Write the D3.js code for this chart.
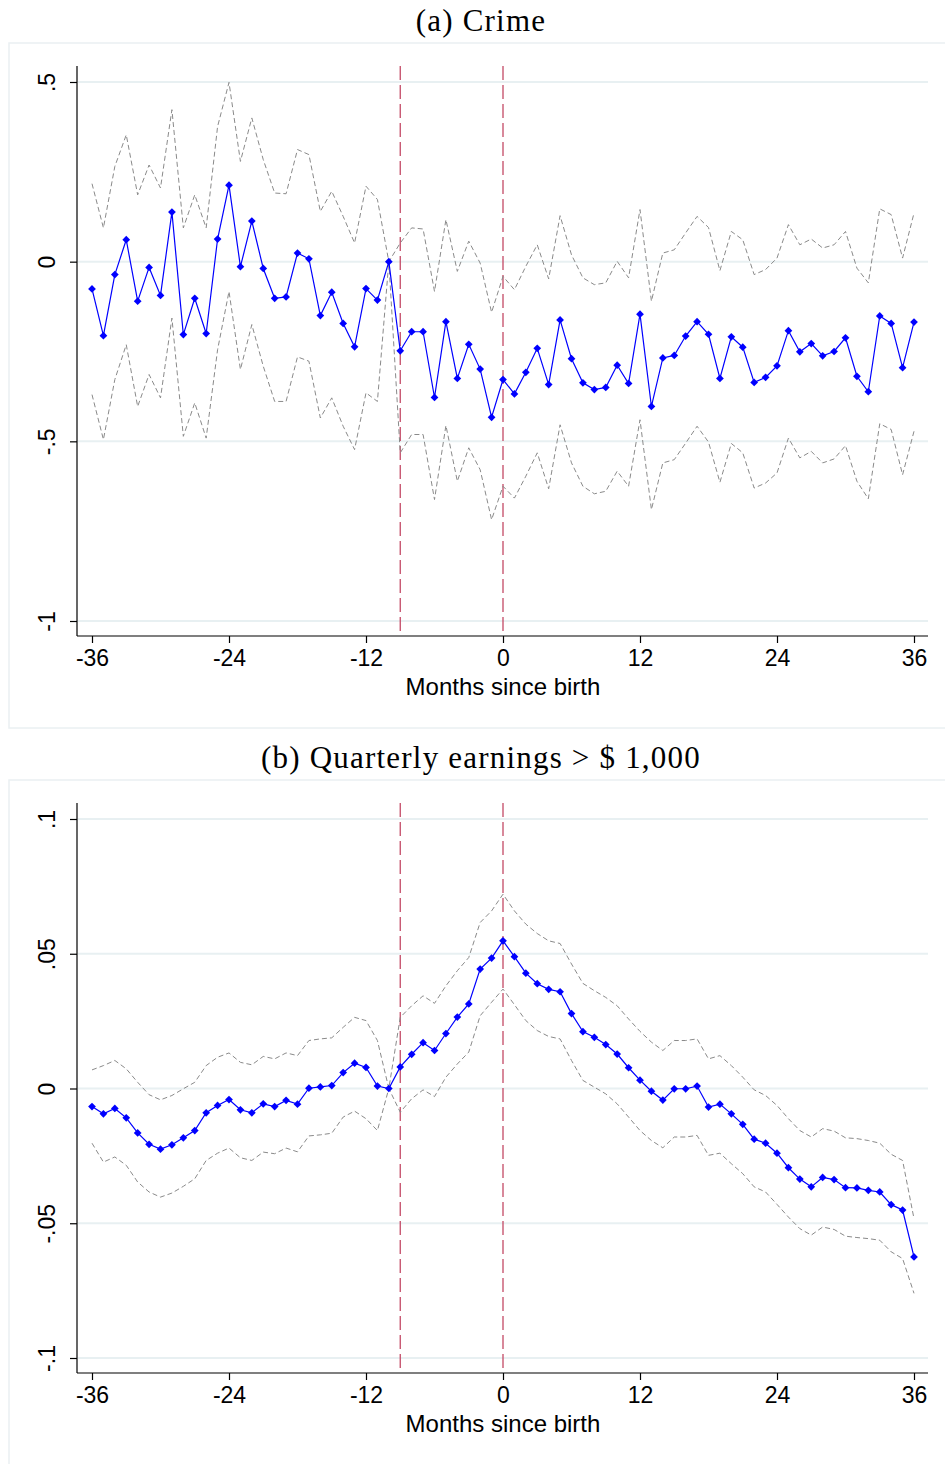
<html>
<head>
<meta charset="utf-8">
<style>
  body { margin: 0; background: #fff; }
  .frame { fill: none; stroke: #eaf0f2; stroke-width: 1.5; }
  .title { font-family: "Liberation Serif", "DejaVu Serif", serif; font-size: 31px; letter-spacing: 1.2px; text-anchor: middle; }
  .axis text { font-family: "Liberation Sans", Arial, sans-serif; font-size: 23px; fill: #000; }
  .axis path, .axis line { stroke: #000; stroke-width: 1.2; }
  .xlabel { font-family: "Liberation Sans", Arial, sans-serif; font-size: 24px; text-anchor: middle; }
  .grid { stroke: #e8f0f2; stroke-width: 2; }
  .vline { stroke: #c44a66; stroke-width: 1.3; stroke-dasharray: 14,5; }
  .ci { fill: none; stroke: #8a8a8a; stroke-width: 1; stroke-dasharray: 5,3; }
  .est { fill: none; stroke: #0000ff; stroke-width: 1.2; }
  .dot { fill: #0000ff; }
</style>
</head>
<body>
<svg id="chart"></svg>
<script src="https://d3js.org/d3.v7.min.js"></script>
<script>
var months = d3.range(-36, 37);
var xTicks = [-36, -24, -12, 0, 12, 24, 36];
var xTickLabels = ["-36", "-24", "-12", "0", "12", "24", "36"];
var eventLines = [-9, 0];

// (a) Crime
var crimeTicks = [0.5, 0, -0.5, -1];
var crimeTickLabels = [".5", "0", "-.5", "-1"];
var crimeEst = [-0.076, -0.206, -0.036, 0.061, -0.110, -0.016, -0.094, 0.138, -0.203, -0.102, -0.200, 0.063,
  0.213, -0.014, 0.113, -0.019, -0.102, -0.098, 0.024, 0.008, -0.150, -0.085, -0.172, -0.237,
  -0.075, -0.107, 0.000, -0.248, -0.195, -0.195, -0.378, -0.167, -0.325, -0.230, -0.299, -0.433,
  -0.328, -0.368, -0.308, -0.241, -0.342, -0.162, -0.270, -0.337, -0.356, -0.350, -0.288, -0.339,
  -0.146, -0.403, -0.268, -0.261, -0.207, -0.167, -0.202, -0.325, -0.209, -0.238, -0.336, -0.322,
  -0.290, -0.192, -0.251, -0.228, -0.262, -0.250, -0.212, -0.319, -0.362, -0.151, -0.172, -0.295, -0.168];
var crimeHi = [0.217, 0.094, 0.265, 0.353, 0.186, 0.269, 0.205, 0.423, 0.094, 0.186, 0.094, 0.376,
  0.499, 0.279, 0.400, 0.284, 0.191, 0.189, 0.312, 0.298, 0.140, 0.196, 0.126, 0.052,
  0.210, 0.173, 0.000, 0.052, 0.094, 0.091, -0.083, 0.117, -0.027, 0.057, -0.004, -0.141,
  -0.041, -0.078, -0.013, 0.047, -0.048, 0.128, 0.019, -0.045, -0.064, -0.059, 0.001, -0.045,
  0.145, -0.110, 0.024, 0.033, 0.080, 0.126, 0.095, -0.025, 0.084, 0.061, -0.036, -0.022,
  0.010, 0.103, 0.047, 0.063, 0.038, 0.047, 0.084, -0.018, -0.059, 0.147, 0.131, 0.010, 0.135];
var crimeLo = [-0.370, -0.495, -0.328, -0.231, -0.403, -0.314, -0.379, -0.157, -0.486, -0.393, -0.491, -0.245,
  -0.083, -0.300, -0.175, -0.291, -0.389, -0.389, -0.265, -0.277, -0.435, -0.379, -0.458, -0.523,
  -0.365, -0.389, 0.000, -0.532, -0.481, -0.481, -0.662, -0.456, -0.611, -0.518, -0.579, -0.718,
  -0.625, -0.658, -0.597, -0.532, -0.632, -0.454, -0.560, -0.625, -0.646, -0.639, -0.583, -0.625,
  -0.440, -0.690, -0.560, -0.551, -0.505, -0.458, -0.502, -0.614, -0.506, -0.532, -0.630, -0.616,
  -0.588, -0.491, -0.546, -0.528, -0.560, -0.549, -0.512, -0.611, -0.660, -0.451, -0.467, -0.593, -0.472];

// (b) Quarterly earnings > $1,000
var earnTicks = [0.1, 0.05, 0, -0.05, -0.1];
var earnTickLabels = [".1", ".05", "0", "-.05", "-.1"];
var earnEst = [-0.0067, -0.0094, -0.0074, -0.0109, -0.0165, -0.0207, -0.0225, -0.0209, -0.0183, -0.0156, -0.0090, -0.0063,
  -0.0041, -0.0079, -0.0090, -0.0057, -0.0067, -0.0044, -0.0058, 0.0001, 0.0006, 0.0011, 0.0059, 0.0094,
  0.0078, 0.0009, 0.0000, 0.0080, 0.0127, 0.0170, 0.0141, 0.0204, 0.0265, 0.0314, 0.0443, 0.0484,
  0.0548, 0.0489, 0.0428, 0.0389, 0.0368, 0.0359, 0.0278, 0.0211, 0.0190, 0.0163, 0.0128, 0.0077,
  0.0031, -0.0010, -0.0043, -0.0001, -0.0001, 0.0009, -0.0069, -0.0058, -0.0094, -0.0133, -0.0188, -0.0203,
  -0.0240, -0.0294, -0.0336, -0.0365, -0.0330, -0.0338, -0.0368, -0.0369, -0.0378, -0.0384, -0.0431, -0.0451, -0.0625];
var earnHi = [0.0069, 0.0085, 0.0104, 0.0073, 0.0023, -0.0023, -0.0042, -0.0026, -0.0001, 0.0023, 0.0085, 0.0116,
  0.0132, 0.0097, 0.0088, 0.0119, 0.0110, 0.0132, 0.0122, 0.0178, 0.0184, 0.0188, 0.0227, 0.0264,
  0.0252, 0.0178, 0.0000, 0.0264, 0.0307, 0.0344, 0.0316, 0.0381, 0.0437, 0.0486, 0.0616, 0.0659,
  0.0721, 0.0659, 0.0610, 0.0575, 0.0548, 0.0538, 0.0462, 0.0390, 0.0363, 0.0338, 0.0307, 0.0258,
  0.0212, 0.0172, 0.0141, 0.0178, 0.0178, 0.0184, 0.0110, 0.0122, 0.0085, 0.0042, -0.0005, -0.0026,
  -0.0063, -0.0112, -0.0156, -0.0180, -0.0149, -0.0158, -0.0183, -0.0186, -0.0193, -0.0203, -0.0244, -0.0267, -0.0483];
var earnLo = [-0.0203, -0.0273, -0.0254, -0.0285, -0.0347, -0.0384, -0.0403, -0.0388, -0.0363, -0.0335, -0.0267, -0.0240,
  -0.0221, -0.0257, -0.0267, -0.0236, -0.0242, -0.0221, -0.0235, -0.0176, -0.0172, -0.0166, -0.0106, -0.0084,
  -0.0112, -0.0156, 0.0000, -0.0088, -0.0038, -0.0005, -0.0030, 0.0042, 0.0091, 0.0135, 0.0270, 0.0320,
  0.0369, 0.0311, 0.0252, 0.0215, 0.0193, 0.0184, 0.0104, 0.0030, 0.0005, -0.0020, -0.0057, -0.0106,
  -0.0156, -0.0193, -0.0220, -0.0180, -0.0180, -0.0174, -0.0248, -0.0240, -0.0279, -0.0316, -0.0365, -0.0384,
  -0.0430, -0.0477, -0.0520, -0.0544, -0.0514, -0.0523, -0.0548, -0.0553, -0.0557, -0.0563, -0.0606, -0.0631, -0.0760];

var svg = d3.select("#chart")
  .attr("width", 945)
  .attr("height", 1464);

svg.append("rect").attr("width", 945).attr("height", 1464).attr("fill", "#fff");

var x = d3.scaleLinear().domain([-36, 36]).range([92, 914]);

function drawPanel(top, title, est, lo, hi, ticks, tickLabels) {
  var g = svg.append("g").attr("transform", "translate(0," + top + ")");

  g.append("rect").attr("class", "frame")
    .attr("x", 9).attr("y", 43).attr("width", 940).attr("height", 685);
  g.append("text").attr("class", "title")
    .attr("x", 481).attr("y", 31).text(title);

  var y = d3.scaleLinear()
    .domain([ticks[ticks.length - 1], ticks[0]])
    .range([621, 82]);

  g.selectAll(".grid").data(ticks).enter().append("line")
    .attr("class", "grid")
    .attr("x1", 78).attr("x2", 928)
    .attr("y1", function(d) { return y(d); })
    .attr("y2", function(d) { return y(d); });

  g.selectAll(".vline").data(eventLines).enter().append("line")
    .attr("class", "vline")
    .attr("x1", function(d) { return x(d); })
    .attr("x2", function(d) { return x(d); })
    .attr("y1", 66).attr("y2", 636);

  var line = function(vals) {
    return d3.line()
      .x(function(d, i) { return x(months[i]); })
      .y(function(d) { return y(d); })(vals);
  };

  g.append("path").attr("class", "ci").attr("d", line(hi));
  g.append("path").attr("class", "ci").attr("d", line(lo));
  g.append("path").attr("class", "est").attr("d", line(est));

  // diamonds: a square turned 45 degrees
  var diamond = d3.symbol().type(d3.symbolSquare).size(30);
  g.selectAll(".dot").data(est).enter().append("path")
    .attr("class", "dot")
    .attr("d", diamond)
    .attr("transform", function(d, i) {
      return "translate(" + x(months[i]) + "," + y(d) + ") rotate(45)";
    });

  var xAxis = d3.axisBottom(x)
    .tickValues(xTicks)
    .tickSize(7)
    .tickPadding(7)
    .tickSizeOuter(0)
    .tickFormat(function(d, i) { return xTickLabels[i]; });
  var xg = g.append("g").attr("class", "axis")
    .attr("transform", "translate(0,636)")
    .call(xAxis);
  xg.select(".domain").attr("d", "M77,0H928");

  var yAxis = d3.axisLeft(y)
    .tickValues(ticks)
    .tickSize(7)
    .tickSizeOuter(0)
    .tickFormat(function(d, i) { return tickLabels[i]; });
  var yg = g.append("g").attr("class", "axis")
    .attr("transform", "translate(77,0)")
    .call(yAxis);
  yg.select(".domain").attr("d", "M0,66V636");
  yg.selectAll(".tick text")
    .attr("x", 0).attr("dy", 0)
    .attr("text-anchor", "middle")
    .attr("transform", "translate(-22,0) rotate(-90)");

  g.append("text").attr("class", "xlabel")
    .attr("x", x(0)).attr("y", 695)
    .text("Months since birth");
}

drawPanel(0, "(a) Crime", crimeEst, crimeLo, crimeHi, crimeTicks, crimeTickLabels);
drawPanel(737, "(b) Quarterly earnings > $ 1,000", earnEst, earnLo, earnHi, earnTicks, earnTickLabels);
</script>
</body>
</html>
